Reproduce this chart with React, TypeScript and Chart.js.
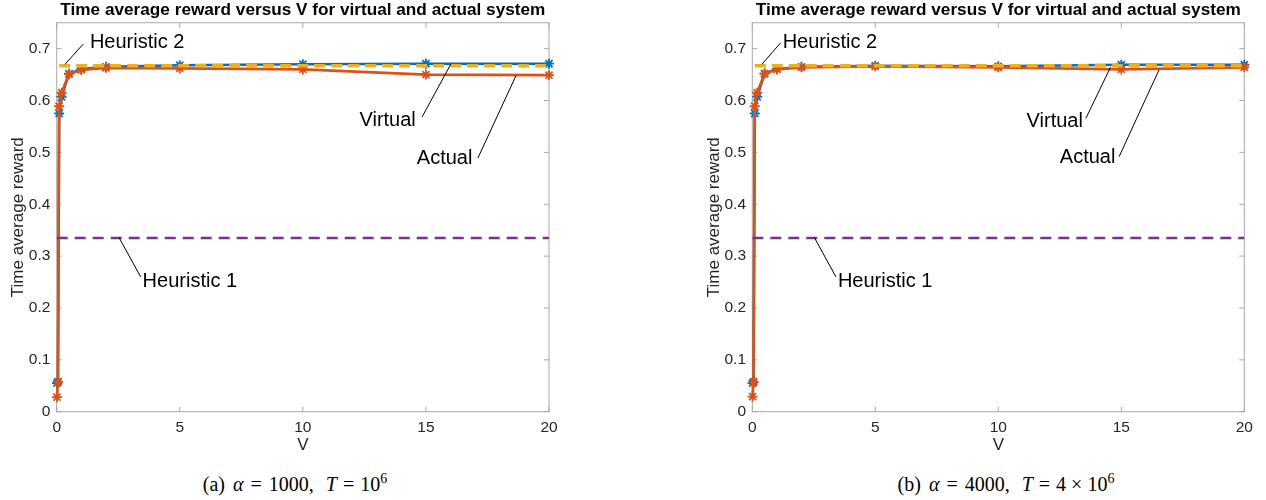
import React, { useEffect, useRef } from "react";
import { Chart, registerables } from "chart.js";

Chart.register(...registerables);

// ---------- data ----------
const V_VALUES = [0.01, 0.05, 0.1, 0.2, 0.5, 1, 2, 5, 10, 15, 20];
const VIRTUAL_A = [0.055, 0.058, 0.575, 0.607, 0.652, 0.661, 0.665, 0.668, 0.670, 0.671, 0.671];
const ACTUAL_A = [0.028, 0.057, 0.589, 0.615, 0.651, 0.659, 0.663, 0.662, 0.660, 0.650, 0.649];
const VIRTUAL_B = [0.055, 0.058, 0.575, 0.607, 0.652, 0.661, 0.665, 0.667, 0.666, 0.669, 0.669];
const ACTUAL_B = [0.029, 0.057, 0.589, 0.615, 0.652, 0.660, 0.664, 0.666, 0.664, 0.660, 0.664];
const HEURISTIC1_V = [0, 20];
const HEURISTIC1_VALUE = 0.335;
const HEURISTIC2_V = [0.1, 20];
const HEURISTIC2_VALUE = 0.667;
const X_TICKS = [0, 5, 10, 15, 20];
const Y_TICKS = [0, 0.1, 0.2, 0.3, 0.4, 0.5, 0.6, 0.7];
const TITLE = "Time average reward versus V for virtual and actual system";
const X_LABEL = "V";
const Y_LABEL = "Time average reward";

type Note = { text: string; tx: number; ty: number; from: number[]; to: number[] };
const NOTES_A: Note[] = [
  { text: "Heuristic 2", tx: 1.35, ty: 0.711, from: [1.08, 0.709], to: [0.34, 0.670] },
  { text: "Heuristic 1", tx: 3.49, ty: 0.251, from: [3.41, 0.260], to: [2.53, 0.336] },
  { text: "Virtual", tx: 12.3, ty: 0.562, from: [14.84, 0.568], to: [16.02, 0.671] },
  { text: "Actual", tx: 14.63, ty: 0.488, from: [17.11, 0.489], to: [18.66, 0.648] },
];
const NOTES_B: Note[] = [
  { text: "Heuristic 2", tx: 1.235, ty: 0.711, from: [1.146, 0.711], to: [0.394, 0.670] },
  { text: "Heuristic 1", tx: 3.48, ty: 0.251, from: [3.4, 0.26], to: [2.52, 0.336] },
  { text: "Virtual", tx: 11.15, ty: 0.5605, from: [13.56, 0.5657], to: [14.56, 0.664] },
  { text: "Actual", tx: 12.5, ty: 0.4905, from: [14.91, 0.4916], to: [16.53, 0.6588] },
];

// ---------- styles ----------
const BLUE = "#0072BD";
const ORANGE = "#D95319";
const YELLOW = "#EDB120";
const PURPLE = "#7E2F8E";
const SANS = '"Liberation Sans", Arial, Helvetica, sans-serif';
const SERIF = '"Liberation Serif", "Times New Roman", serif';
const TEXT = "#262626";
const AXIS = "#a8a8a8";

const CANVAS_W = 633;
const CANVAS_H = 460;

const framePlugin = {
  id: "frame",
  beforeDatasetsDraw(chart: any) {
    const { ctx, chartArea, scales } = chart;
    const { left, right, top, bottom } = chartArea;
    ctx.save();
    ctx.strokeStyle = AXIS;
    ctx.lineWidth = 1;
    ctx.strokeRect(left, top, right - left, bottom - top);
    const tl = 5;
    ctx.beginPath();
    X_TICKS.forEach((v) => {
      const px = scales.x.getPixelForValue(v);
      ctx.moveTo(px, bottom);
      ctx.lineTo(px, bottom - tl);
      ctx.moveTo(px, top);
      ctx.lineTo(px, top + tl);
    });
    Y_TICKS.forEach((v) => {
      const py = scales.y.getPixelForValue(v);
      ctx.moveTo(left, py);
      ctx.lineTo(left + tl, py);
      ctx.moveTo(right, py);
      ctx.lineTo(right - tl, py);
    });
    ctx.stroke();
    ctx.restore();
  },
};

const notesPlugin = {
  id: "notes",
  afterDatasetsDraw(chart: any, _args: any, opts: any) {
    const notes: Note[] = opts.notes || [];
    const { ctx, scales } = chart;
    const x = scales.x;
    const y = scales.y;
    ctx.save();
    ctx.strokeStyle = "#000";
    ctx.lineWidth = 1;
    ctx.fillStyle = "#000";
    ctx.font = `20px ${SANS}`;
    ctx.textAlign = "left";
    ctx.textBaseline = "middle";
    notes.forEach((n) => {
      ctx.beginPath();
      ctx.moveTo(x.getPixelForValue(n.from[0]), y.getPixelForValue(n.from[1]));
      ctx.lineTo(x.getPixelForValue(n.to[0]), y.getPixelForValue(n.to[1]));
      ctx.stroke();
      ctx.fillText(n.text, x.getPixelForValue(n.tx), y.getPixelForValue(n.ty));
    });
    ctx.restore();
  },
};

function makeConfig(virtual: number[], actual: number[], notes: Note[], padLeft: number, padRight: number): any {
  const pts = (xs: number[], ys: number[]) => xs.map((v, i) => ({ x: v, y: ys[i] }));
  const flat = (xs: number[], val: number) => xs.map((v) => ({ x: v, y: val }));
  return {
    type: "line",
    data: {
      datasets: [
        {
          label: "Heuristic 1",
          data: flat(HEURISTIC1_V, HEURISTIC1_VALUE),
          borderColor: PURPLE,
          borderWidth: 2.5,
          borderDash: [11, 7],
          pointRadius: 0,
          order: 1,
        },
        {
          label: "Heuristic 2",
          data: flat(HEURISTIC2_V, HEURISTIC2_VALUE),
          borderColor: YELLOW,
          borderWidth: 3.5,
          borderDash: [11, 6],
          pointRadius: 0,
          order: 2,
        },
        {
          label: "Actual",
          data: pts(V_VALUES, actual),
          borderColor: ORANGE,
          backgroundColor: ORANGE,
          borderWidth: 2.7,
          pointStyle: "star",
          pointRadius: 5,
          pointBorderWidth: 1.8,
          pointBorderColor: ORANGE,
          borderJoinStyle: "round",
          clip: false,
          order: 3,
        },
        {
          label: "Virtual",
          data: pts(V_VALUES, virtual),
          borderColor: BLUE,
          backgroundColor: BLUE,
          borderWidth: 2.5,
          pointStyle: "star",
          pointRadius: 5,
          pointBorderWidth: 1.8,
          pointBorderColor: BLUE,
          borderJoinStyle: "round",
          clip: false,
          order: 4,
        },
      ],
    },
    options: {
      responsive: false,
      animation: false,
      layout: { padding: { left: padLeft, right: padRight, top: 0, bottom: 0 } },
      plugins: {
        legend: { display: false },
        tooltip: { enabled: false },
        title: {
          display: true,
          text: TITLE,
          fullSize: false,
          color: "#000",
          font: { family: SANS, size: 17.2, weight: "bold" },
          padding: { top: 0.4, bottom: 1.7 },
        },
        notes: { notes },
      },
      scales: {
        x: {
          type: "linear",
          min: 0,
          max: 20,
          afterBuildTicks: (s: any) => {
            s.ticks = X_TICKS.map((v) => ({ value: v }));
          },
          afterFit: (s: any) => {
            s.height = CANVAS_H - 411.7;
            s.paddingLeft = 0;
            s.paddingRight = 0;
          },
          grid: { display: false, drawTicks: false },
          border: { display: false },
          ticks: {
            color: TEXT,
            font: { family: SANS, size: 15.5 },
            padding: 6.5,
            maxRotation: 0,
            autoSkip: false,
            callback: (v: any) => String(v),
          },
          title: {
            display: true,
            text: X_LABEL,
            color: TEXT,
            font: { family: SANS, size: 17 },
            padding: { top: 0, bottom: 4 },
          },
        },
        y: {
          type: "linear",
          min: 0,
          max: 0.75,
          afterBuildTicks: (s: any) => {
            s.ticks = Y_TICKS.map((v) => ({ value: v }));
          },
          afterFit: (s: any) => {
            s.width = 56.6;
            s.paddingTop = 0;
            s.paddingBottom = 0;
          },
          grid: { display: false, drawTicks: false },
          border: { display: false },
          ticks: {
            color: TEXT,
            font: { family: SANS, size: 15.5 },
            padding: 6.3,
            autoSkip: false,
            callback: (v: any) => (v === 0 ? "0" : Number(v).toFixed(1)),
          },
          title: {
            display: true,
            text: Y_LABEL,
            color: TEXT,
            font: { family: SANS, size: 17 },
            padding: { top: 8.5, bottom: 0 },
          },
        },
      },
    },
    plugins: [framePlugin, notesPlugin],
  };
}

function Panel(props: { virtual: number[]; actual: number[]; notes: Note[]; padLeft: number; padRight: number; left: number }) {
  const ref = useRef<HTMLCanvasElement>(null);
  useEffect(() => {
    const chart = new Chart(ref.current as HTMLCanvasElement, makeConfig(props.virtual, props.actual, props.notes, props.padLeft, props.padRight));
    return () => chart.destroy();
  }, []);
  return (
    <canvas
      ref={ref}
      width={CANVAS_W}
      height={CANVAS_H}
      style={{ position: "absolute", left: props.left, top: 0, width: CANVAS_W, height: CANVAS_H }}
    />
  );
}

const sup: React.CSSProperties = { fontSize: 14, position: "relative", top: -8 };

export default function App() {
  return (
    <div style={{ position: "absolute", left: 0, top: 0, width: 1266, height: 500, background: "#fff", overflow: "hidden" }}>
      <Panel virtual={VIRTUAL_A} actual={ACTUAL_A} notes={NOTES_A} padLeft={0.1} padRight={84} left={0} />
      <Panel virtual={VIRTUAL_B} actual={ACTUAL_B} notes={NOTES_B} padLeft={62.7} padRight={21.7} left={633} />
      <div
        style={{ position: "absolute", left: 0, width: 590, top: 472, textAlign: "center", fontFamily: SERIF, fontSize: 20, lineHeight: "24px", color: "#000", whiteSpace: "nowrap" }}
      >
        (a)<i style={{ marginLeft: 8 }}>α</i>
        <span style={{ margin: "0 7px" }}>=</span>1000,
        <i style={{ marginLeft: 12 }}>T</i>
        <span style={{ margin: "0 6px" }}>=</span>10<span style={sup}>6</span>
      </div>
      <div
        style={{ position: "absolute", left: 746, width: 520, top: 472, textAlign: "center", fontFamily: SERIF, fontSize: 20, lineHeight: "24px", color: "#000", whiteSpace: "nowrap" }}
      >
        (b)<i style={{ marginLeft: 8 }}>α</i>
        <span style={{ margin: "0 7px" }}>=</span>4000,
        <i style={{ marginLeft: 12 }}>T</i>
        <span style={{ margin: "0 6px" }}>=</span>4<span style={{ margin: "0 5px" }}>×</span>10<span style={sup}>6</span>
      </div>
    </div>
  );
}
